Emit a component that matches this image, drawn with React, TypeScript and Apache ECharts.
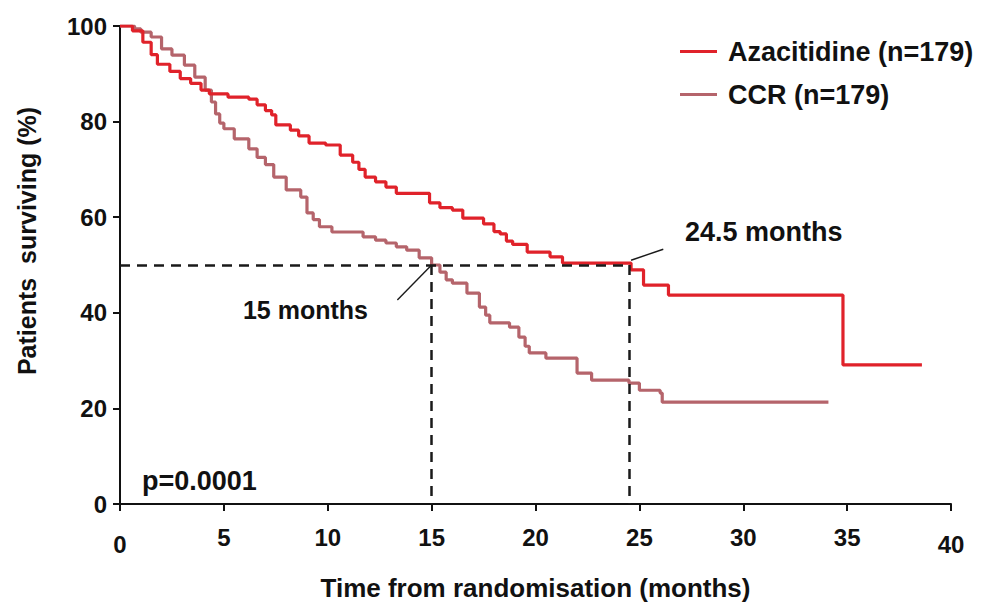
import React, { useEffect, useRef } from "react";
import * as echarts from "echarts";

// Kaplan–Meier steps: [month, % surviving]
const azacitidine: [number, number][] = [
  [0, 100], [0.6, 99], [1.1, 96.6], [1.5, 94], [1.8, 92], [2.4, 90.5], [2.9, 89],
  [3.4, 88], [3.9, 86.6], [4.3, 85.8], [5.2, 85.1], [6.2, 84.7], [6.6, 83.5],
  [7.0, 82.3], [7.3, 81.4], [7.5, 79.3], [8.2, 78.2], [8.6, 77], [9.1, 75.5],
  [9.9, 75.1], [10.6, 73], [11.2, 71.5], [11.5, 70], [11.8, 68.4], [12.3, 67.4],
  [12.8, 66.3], [13.3, 65], [14.9, 63], [15.4, 62], [16.0, 61.5], [16.5, 59.8],
  [17.5, 58.6], [18.0, 57], [18.3, 56.5], [18.6, 55], [18.9, 54.3], [19.6, 52.7],
  [20.7, 51.7], [21.3, 50.4], [24.6, 49], [25.2, 45.8], [26.4, 43.7],
  [34.8, 29.1], [38.6, 29.1],
];
const ccr: [number, number][] = [
  [0, 100], [0.7, 99.4], [1.0, 98.7], [1.5, 97.7], [2.0, 95.2], [2.5, 93.9],
  [3.1, 91.8], [3.6, 89.3], [4.1, 86.6], [4.4, 84.1], [4.6, 81.6], [4.8, 79.7],
  [5.0, 78.5], [5.5, 76.4], [6.2, 74.3], [6.6, 72.5], [7.0, 71], [7.4, 68.4],
  [8.0, 65.7], [8.7, 64.2], [9.0, 60.9], [9.3, 59.5], [9.6, 58], [10.2, 56.9],
  [11.7, 55.9], [12.3, 55.2], [12.8, 54.6], [13.3, 53.8], [13.8, 53.1],
  [14.4, 51.5], [15.0, 50], [15.4, 48.5], [15.7, 46.9], [16.0, 46.2],
  [16.7, 44.1], [17.3, 41.2], [17.6, 39.5], [17.8, 37.9], [18.75, 37],
  [19.2, 34.9], [19.5, 33], [19.7, 31.6], [20.5, 30.5], [22.0, 27.4],
  [22.7, 25.9], [24.5, 25.3], [25.0, 23.8], [26.0, 23.2], [26.1, 21.3],
  [34.1, 21.3],
];

const seriesNames = ["Azacitidine (n=179)", "CCR (n=179)"];
const seriesColors = ["#e0222a", "#b5646b"];
const medianSurvival = 50;
const medianAza = 24.5;
const medianCcr = 15;
const annotationTexts = ["24.5 months", "15 months", "p=0.0001"];
const xAxisTitle = "Time from randomisation (months)";
const yAxisTitle = "Patients  surviving (%)";
const xMin = 0, xMax = 40, xStep = 5;
const yMin = 0, yMax = 100, yStep = 20;

export default function App() {
  const ref = useRef<HTMLDivElement>(null);
  useEffect(() => {
    const chart = echarts.init(ref.current!, null, { renderer: "svg" });
    const font = "'Liberation Sans', Arial, sans-serif";
    const ink = "#111";
    const labelBase = { fontSize: 24, fontWeight: "bold", color: ink, fontFamily: font };
    const dashed = { type: [10, 7], color: "#1a1a1a", width: 2.5 };
    const pointer = { type: "solid", width: 1.4, color: "#1a1a1a" };
    chart.setOption({
      animation: false,
      backgroundColor: "#fff",
      grid: { left: 120, right: 30, top: 26, bottom: 101, containLabel: false, outerBoundsMode: "none" },
      legend: {
        orient: "vertical",
        left: 675,
        top: 31,
        itemWidth: 37,
        itemHeight: 3,
        itemGap: 12,
        icon: "rect",
        data: seriesNames,
        textStyle: {
          fontSize: 27, fontWeight: "bold", color: ink, fontFamily: font,
          lineHeight: 31, padding: [0, 0, 0, 6],
        },
      },
      xAxis: {
        type: "value",
        min: xMin, max: xMax, interval: xStep,
        axisLine: { show: true, lineStyle: { color: ink, width: 2 } },
        axisTick: { show: true, length: 7, lineStyle: { color: ink, width: 2 } },
        splitLine: { show: false },
        axisLabel: {
          ...labelBase,
          margin: 21,
          formatter: (v: number) => (v === xMin || v === xMax ? `{low|${v}}` : `${v}`),
          rich: { low: { ...labelBase, padding: [7, 0, 0, 0] } },
        },
        name: xAxisTitle,
        nameLocation: "middle",
        nameGap: 70,
        nameTextStyle: { fontSize: 26, fontWeight: "bold", color: ink, fontFamily: font, lineHeight: 28 },
      },
      yAxis: {
        type: "value",
        min: yMin, max: yMax, interval: yStep,
        axisLine: { show: true, lineStyle: { color: ink, width: 2 } },
        axisTick: { show: true, length: 7, lineStyle: { color: ink, width: 2 } },
        splitLine: { show: false },
        axisLabel: { ...labelBase, margin: 13 },
      },
      graphic: [
        {
          type: "text", x: 27, y: 241, rotation: Math.PI / 2,
          style: {
            text: yAxisTitle, fontSize: 25, fontWeight: "bold", fill: ink, fontFamily: font,
            align: "center", verticalAlign: "middle",
          },
        },
        {
          type: "text", x: 685, y: 232,
          style: {
            text: annotationTexts[0], fontSize: 27, fontWeight: "bold", fill: ink, fontFamily: font,
            align: "left", verticalAlign: "middle",
          },
        },
        {
          type: "text", x: 368, y: 310,
          style: {
            text: annotationTexts[1], fontSize: 25, fontWeight: "bold", fill: ink, fontFamily: font,
            align: "right", verticalAlign: "middle",
          },
        },
        {
          type: "text", x: 142, y: 481,
          style: {
            text: annotationTexts[2], fontSize: 27, fontWeight: "bold", fill: ink, fontFamily: font,
            align: "left", verticalAlign: "middle",
          },
        },
      ],
      series: [
        {
          name: seriesNames[0],
          type: "line",
          step: "end",
          symbol: "none",
          showSymbol: false,
          data: azacitidine,
          z: 4,
          lineStyle: { color: seriesColors[0], width: 3.2 },
          itemStyle: { color: seriesColors[0] },
          markLine: {
            silent: true,
            symbol: ["none", "none"],
            label: { show: false },
            lineStyle: dashed,
            data: [
              [{ coord: [xMin, medianSurvival] }, { coord: [medianAza, medianSurvival] }],
              [{ coord: [medianCcr, medianSurvival] }, { coord: [medianCcr, yMin] }],
              [{ coord: [medianAza, medianSurvival] }, { coord: [medianAza, yMin] }],
              [
                { coord: [medianCcr, medianSurvival], lineStyle: pointer },
                { coord: [13.35, 42.7] },
              ],
              [
                { coord: [medianAza + 0.1, 51], lineStyle: pointer },
                { coord: [26.15, 53.3] },
              ],
            ],
          },
        },
        {
          name: seriesNames[1],
          type: "line",
          step: "end",
          symbol: "none",
          showSymbol: false,
          data: ccr,
          z: 3,
          lineStyle: { color: seriesColors[1], width: 3.2 },
          itemStyle: { color: seriesColors[1] },
        },
      ],
    });
    return () => chart.dispose();
  }, []);
  return (
    <div
      ref={ref}
      style={{ position: "fixed", left: 0, top: 0, width: 981, height: 605, background: "#fff" }}
    />
  );
}
